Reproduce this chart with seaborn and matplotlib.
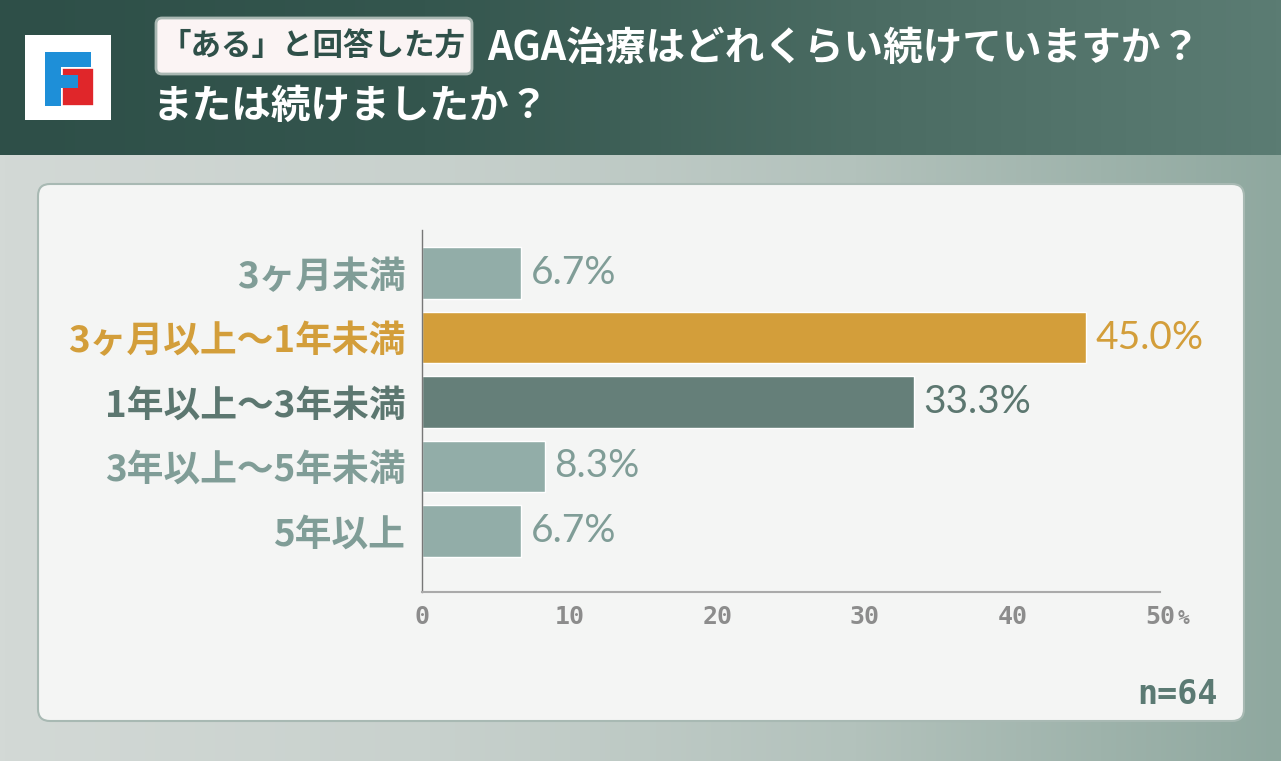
import numpy as np
import matplotlib
matplotlib.use("Agg")
import matplotlib.pyplot as plt
from matplotlib.patches import FancyBboxPatch, Rectangle
from matplotlib.colors import LinearSegmentedColormap
import seaborn as sns

# data
categories = ["3ヶ月未満", "3ヶ月以上〜1年未満", "1年以上〜3年未満", "3年以上〜5年未満", "5年以上"]
values = [6.7, 45.0, 33.3, 8.3, 6.7]
bar_colors = ["#92ada8", "#d39e3a", "#657f79", "#92ada8", "#92ada8"]
label_colors = ["#809d97", "#d39e3a", "#5c7770", "#809d97", "#809d97"]
xticks = [0, 10, 20, 30, 40, 50]
badge_text = "「ある」と回答した方"
title_line1 = "AGA治療はどれくらい続けていますか？"
title_line2 = "または続けましたか？"
n_text = "n=64"

sns.set_style("white")
plt.rcParams["font.family"] = ["Noto Sans CJK JP", "DejaVu Sans"]

W, H = 1281, 761
fig = plt.figure(figsize=(W / 100, H / 100), dpi=100)

# background layer in pixel coordinates
bg = fig.add_axes([0, 0, 1, 1], zorder=-1)
bg.axis("off")

lower = LinearSegmentedColormap.from_list("lower", ["#d3d9d6", "#c8d1cd", "#b3c2bc", "#8fa89f"])
grad = np.linspace(0, 1, 256).reshape(1, -1)
bg.imshow(grad, cmap=lower, extent=(0, W, H, 155), aspect="auto")
header = LinearSegmentedColormap.from_list("header", ["#2e4f48", "#34564e", "#4a6b62", "#5b7c73"])
bg.imshow(grad, cmap=header, extent=(0, W, 155, 0), aspect="auto")
bg.set_xlim(0, W)
bg.set_ylim(H, 0)

# white panel
bg.add_patch(FancyBboxPatch((38, 184), 1206, 537, boxstyle="round,pad=0,rounding_size=12",
                            fc="#f4f5f4", ec="#a8b9b3", lw=1.5))

# logo
bg.add_patch(Rectangle((25, 35), 86, 85, fc="white", ec="none"))
bg.add_patch(Rectangle((45, 52), 16, 54, fc="#1e8fd8", ec="none"))
bg.add_patch(Rectangle((45, 52), 46, 15, fc="#1e8fd8", ec="none"))
bg.add_patch(Rectangle((62, 68), 32, 38, fc="#e0262a", ec="white", lw=1.2))
bg.add_patch(Rectangle((45, 75), 33, 13, fc="#1e8fd8", ec="none"))

# badge
bg.add_patch(FancyBboxPatch((156, 18), 316, 56, boxstyle="round,pad=0,rounding_size=6",
                            fc="#fbf4f4", ec="#aab8b3", lw=2))
bg.text(313, 47, badge_text, color="#2f5049", fontsize=22, fontweight="bold",
        ha="center", va="center")
bg.text(487, 48, title_line1, color="white", fontsize=28.5, fontweight="bold",
        ha="left", va="center")
bg.text(153, 106, title_line2, color="white", fontsize=28.5, fontweight="bold",
        ha="left", va="center")

# chart
ax = fig.add_axes([422 / W, 1 - 592 / H, (1160 - 422) / W, (592 - 230) / H])
ax.set_facecolor("none")
sns.barplot(x=values, y=categories, hue=categories, palette=bar_colors, legend=False,
            orient="h", width=0.8, saturation=1, ax=ax)
ax.set_xlim(0, 50)
ax.set_ylim(4.95, -0.67)

for cont, col in zip(ax.containers, label_colors):
    ax.bar_label(cont, labels=[f"{v:.1f}%" for v in cont.datavalues], padding=7,
                 color=col, fontsize=28, family="Lato")

ax.set_xticks(xticks)
ax.set_xticklabels([str(t) for t in xticks], family="DejaVu Sans Mono", fontsize=18,
                   fontweight="bold", color="#8c8c8c")
ax.tick_params(axis="x", direction="in", length=9, width=1.2, color="#aaaaaa", pad=9)
ax.tick_params(axis="y", length=0, pad=12)
for lab, col in zip(ax.get_yticklabels(), label_colors):
    lab.set_color(col)
    lab.set_fontsize(26.5)
    lab.set_fontweight("bold")
ax.set_xlabel("")
ax.set_ylabel("")
for s in ["top", "right"]:
    ax.spines[s].set_visible(False)
ax.spines["bottom"].set_color("#aaaaaa")
ax.spines["bottom"].set_linewidth(1.5)
ax.spines["left"].set_color("#777777")
ax.spines["left"].set_linewidth(1)

bg.text(1178, 619, "%", family="DejaVu Sans Mono", fontsize=14, fontweight="bold",
        color="#8c8c8c", ha="left", va="center")
bg.text(1218, 695, n_text, family="DejaVu Sans Mono", fontsize=24, fontweight="bold",
        color="#5b7a73", ha="right", va="center")

fig.savefig("out.png", dpi=100)
